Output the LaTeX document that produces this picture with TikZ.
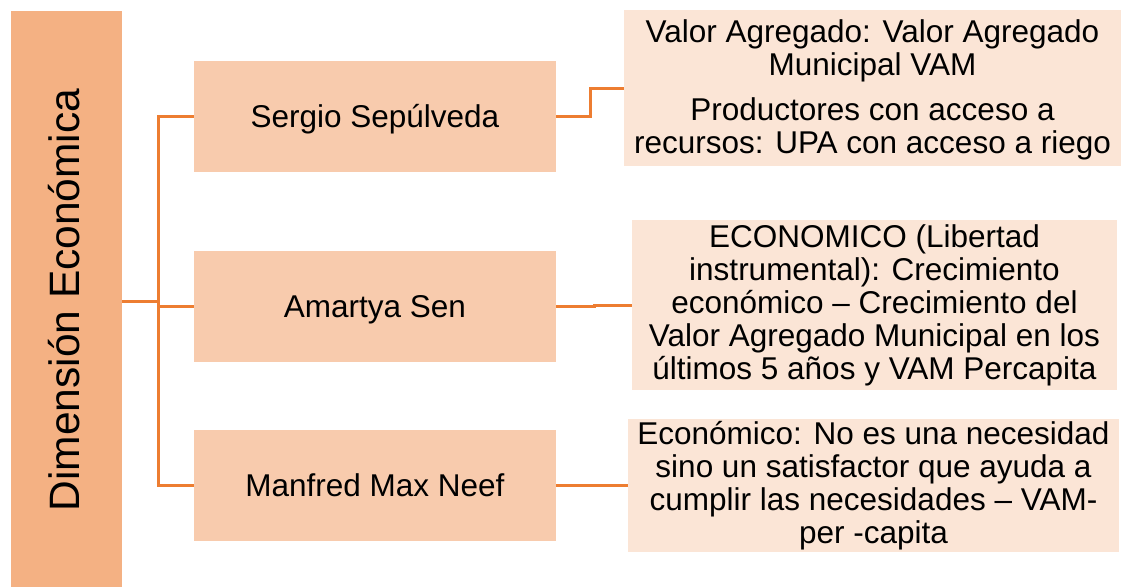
\documentclass[tikz,border=0pt]{standalone}
\usepackage{fontspec}
\setmainfont{Liberation Sans}
\definecolor{boxA}{HTML}{F4B183}
\definecolor{boxB}{HTML}{F8CBAD}
\definecolor{boxC}{HTML}{FBE5D6}
\definecolor{lineC}{HTML}{ED7D31}
\tikzset{
  mainbox/.style={fill=boxA, draw=none, inner sep=0pt},
  midbox/.style={fill=boxB, draw=none, inner sep=0pt, minimum width=362pt, minimum height=111pt, text height=28.8pt, text depth=7pt, font=\fontsize{31.5}{33}\selectfont},
  rbox/.style={fill=boxC, draw=none, inner sep=0pt, align=center, font=\fontsize{31.5}{33}\selectfont},
  conn/.style={draw=lineC, line width=3pt}
}
\begin{document}
\begin{tikzpicture}[x=1pt,y=-1pt]
\useasboundingbox (0,0) rectangle (1121,587);
% left vertical box
\node[mainbox, minimum width=111pt, minimum height=576pt] (L) at (66.5,299) {};
\node[rotate=90, font=\fontsize{42.5}{44}\selectfont] (Lt) at (64,300) {Dimensión Económica};
% middle boxes
\node[midbox] (S) at (375,116.5) {Sergio Sepúlveda};
\node[midbox] (A) at (375,306.5) {Amartya Sen};
\node[midbox] (M) at (375,485.5) {Manfred Max Neef};
% right boxes
\node[rbox, minimum width=497pt, minimum height=156pt] (R1) at (872.5,88) {};
\node[rbox] (R1t) at (872.5,89.5) {Valor Agregado: Valor Agregado\\Municipal VAM\\[12pt]Productores con acceso a\\recursos: UPA con acceso a riego};
\node[rbox, minimum width=485pt, minimum height=170pt] (R2) at (874.5,305) {ECONOMICO (Libertad\\instrumental): Crecimiento\\económico -- Crecimiento del\\Valor Agregado Municipal en los\\últimos 5 años y VAM Percapita};
\node[rbox, minimum width=491pt, minimum height=133pt] (R3) at (873.5,485.5) {Económico: No es una necesidad\\sino un satisfactor que ayuda a\\cumplir las necesidades -- VAM-\\per -capita};
% connectors
\coordinate (tl) at (158,301);
\coordinate (tt) at (158,116.5);
\coordinate (tb) at (158,485.5);
\draw[conn] (L.east |- tl) -- (tl);
\draw[conn] (S.west) -| (tb) -- (M.west);
\draw[conn] (A.west) -- (A.west -| tb);
\draw[conn] (S.east) -- ++(34,0) |- (R1.west);
\draw[conn] (A.east) -- ++(38,0) |- (R2.west);
\draw[conn] (M.east) -- (R3.west);
\end{tikzpicture}
\end{document}
